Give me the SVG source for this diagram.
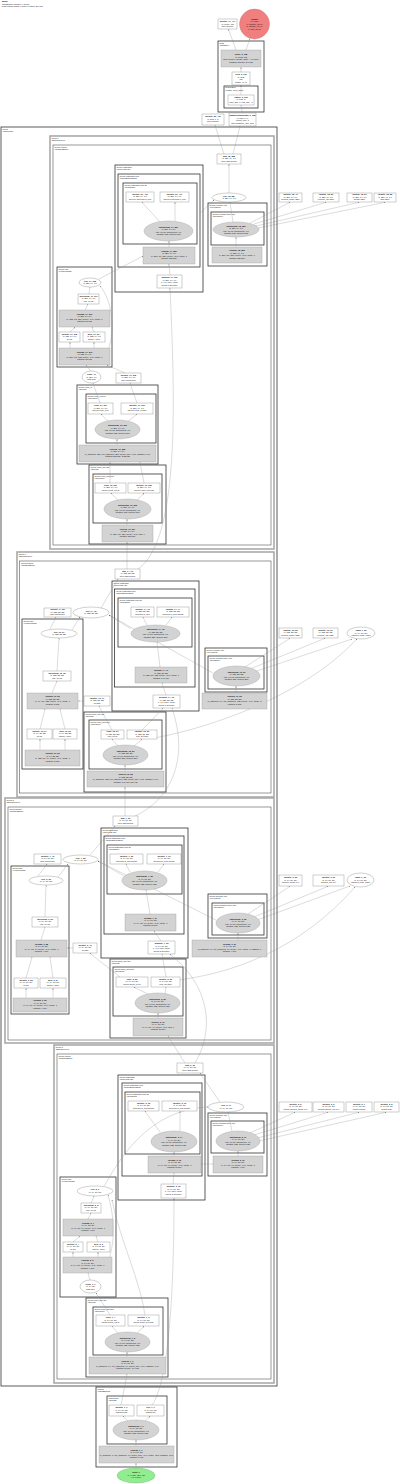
<svg xmlns="http://www.w3.org/2000/svg" width="400" height="1484" viewBox="0 0 400 1484">
<style>
.t{font-family:"Liberation Sans",Arial,sans-serif;font-size:2.1px;text-anchor:middle;fill:#111}
.b{font-weight:bold}
.lb{font-family:"Liberation Sans",Arial,sans-serif;font-size:2px;fill:#111}
.n{fill:#fff;stroke:#777;stroke-width:0.35}
.g{fill:#d3d3d3;stroke:#999;stroke-width:0.35}
.c1{fill:none;stroke:#333;stroke-width:0.8}
.c2{fill:none;stroke:#aaa;stroke-width:1.6}
.c3{fill:none;stroke:#555;stroke-width:0.6}
.e{fill:none;stroke:#888;stroke-width:0.3;marker-end:url(#a)}
</style>
<defs>
<marker id="a" viewBox="0 0 6 6" refX="6" refY="3" markerWidth="4" markerHeight="4" orient="auto"><path d="M0,0L6,3L0,6z" fill="#555"/></marker>
</defs>
<rect width="400" height="1484" fill="#fff"/>
<g id="title" class="lb">
<text x="2" y="2.2" font-weight="bold">Model</text>
<text x="2" y="4.6">Transformer encoder (4 layers)</text>
<text x="2" y="7">torch.jit.trace graph, 1 input, 1 output, 214 ops</text>
</g>

<g id="clusters">
<rect class="c1" x="218" y="41" width="46" height="71"/>
<text class="lb" x="219.5" y="43.6">head</text><text class="lb" x="219.5" y="45.8">(Classifier)</text>
<rect class="c1" x="224" y="86" width="34" height="22"/>
<text class="lb" x="225.2" y="88.4">head.flatten</text><text class="lb" x="225.2" y="90.6">(Flatten, keep_dims)</text>

<rect class="c1" x="1" y="127" width="276" height="1259"/>
<text class="lb" x="2.5" y="129.6">layers</text><text class="lb" x="2.5" y="131.8">(Sequential)</text>

<rect class="c2" x="50" y="136" width="224" height="413"/>
<text class="lb" x="51.5" y="138.6">layers.0</text><text class="lb" x="51.5" y="140.8">(EncoderLayer)</text>
<rect class="c3" x="53" y="145" width="218" height="400"/>
<text class="lb" x="54.5" y="147.6">layers.0.block</text><text class="lb" x="54.5" y="149.8">(ResidualBlock)</text>
<rect class="c1" x="115" y="165" width="88" height="127"/>
<text class="lb" x="116.5" y="167.6">layers.0.attention</text><text class="lb" x="116.5" y="169.8">(MultiHeadAttn)</text>
<rect class="c1" x="118" y="174" width="82" height="93"/>
<text class="lb" x="119.5" y="176.6">layers.0.attention.core</text><text class="lb" x="119.5" y="178.8">(ScaledDotProduct)</text>
<rect class="c1" x="123" y="183" width="74" height="61"/>
<text class="lb" x="124.5" y="185.6">layers.0.attention.core.qk</text><text class="lb" x="124.5" y="187.8">(QKMatmul)</text>
<rect class="c1" x="208" y="203" width="59" height="63"/>
<text class="lb" x="209.5" y="205.6">layers.0.norm1 (LN)</text><text class="lb" x="209.5" y="207.8">(LayerNorm)</text>
<rect class="c1" x="211" y="212" width="53" height="33"/>
<text class="lb" x="212.5" y="214.6">layers.0.norm1.inner (LN)</text><text class="lb" x="212.5" y="216.8">(NormCore)</text>
<rect class="c1" x="57" y="267" width="55" height="100"/>
<text class="lb" x="58.5" y="269.6">layers.0.ffn</text><text class="lb" x="58.5" y="271.8">(FeedForward)</text>
<rect class="c1" x="77" y="385" width="81" height="79"/>
<text class="lb" x="78.5" y="387.6">layers.0.proj_in</text><text class="lb" x="78.5" y="389.8">(Conv1d)</text>
<rect class="c1" x="86" y="394" width="70" height="49"/>
<text class="lb" x="87.5" y="396.6">layers.0.proj_in.conv</text><text class="lb" x="87.5" y="398.8">(ConvCore)</text>
<rect class="c1" x="89" y="465" width="77" height="79"/>
<text class="lb" x="90.5" y="467.6">layers.0.proj_out (1d)</text><text class="lb" x="90.5" y="469.8">(Conv1d)</text>
<rect class="c1" x="93" y="474" width="69" height="49"/>
<text class="lb" x="94.5" y="476.6">layers.0.proj_out.conv</text><text class="lb" x="94.5" y="478.8">(ConvCore)</text>

<rect class="c2" x="17" y="552" width="257" height="245"/>
<text class="lb" x="18.5" y="554.6">layers.1</text><text class="lb" x="18.5" y="556.8">(EncoderLayer)</text>
<rect class="c3" x="19.5" y="561" width="251.5" height="232"/>
<text class="lb" x="21" y="563.6">layers.1.block</text><text class="lb" x="21" y="565.8">(ResidualBlock)</text>
<rect class="c1" x="112" y="581" width="87" height="130"/>
<text class="lb" x="113.5" y="583.6">layers.1.attention</text><text class="lb" x="113.5" y="585.8">(MultiHeadAttn)</text>
<rect class="c1" x="114.5" y="589" width="80.5" height="98"/>
<text class="lb" x="116" y="591.6">layers.1.attention.core</text><text class="lb" x="116" y="593.8">(ScaledDotProduct)</text>
<rect class="c1" x="118" y="598" width="74" height="49"/>
<text class="lb" x="119.5" y="600.6">layers.1.attention.core.qk</text><text class="lb" x="119.5" y="602.8">(QKMatmul)</text>
<rect class="c1" x="22" y="619" width="61" height="150"/>
<text class="lb" x="23.5" y="621.6">layers.1.ffn</text><text class="lb" x="23.5" y="623.8">(FeedForward)</text>
<rect class="c1" x="84" y="712" width="82" height="80"/>
<text class="lb" x="85.5" y="714.6">layers.1.proj_out (1d)</text><text class="lb" x="85.5" y="716.8">(Conv1d)</text>
<rect class="c1" x="89" y="720" width="73" height="49"/>
<text class="lb" x="90.5" y="722.6">layers.1.proj_out.conv</text><text class="lb" x="90.5" y="724.8">(ConvCore)</text>
<rect class="c1" x="205" y="648" width="62" height="44"/>
<text class="lb" x="206.5" y="650.6">layers.1.norm1 (LN)</text><text class="lb" x="206.5" y="652.8">(LayerNorm)</text>
<rect class="c1" x="208" y="656" width="56" height="33"/>
<text class="lb" x="209.5" y="658.6">layers.1.norm1.inner (LN)</text><text class="lb" x="209.5" y="660.8">(NormCore)</text>

<rect class="c2" x="5" y="798" width="269" height="245"/>
<text class="lb" x="6.5" y="800.6">layers.2</text><text class="lb" x="6.5" y="802.8">(EncoderLayer)</text>
<rect class="c3" x="8" y="807" width="263" height="233"/>
<text class="lb" x="9.5" y="809.6">layers.2.block</text><text class="lb" x="9.5" y="811.8">(ResidualBlock)</text>
<rect class="c1" x="101" y="828" width="87" height="130"/>
<text class="lb" x="102.5" y="830.6">layers.2.attention</text><text class="lb" x="102.5" y="832.8">(MultiHeadAttn)</text>
<rect class="c1" x="104" y="836" width="80" height="98"/>
<text class="lb" x="105.5" y="838.6">layers.2.attention.core</text><text class="lb" x="105.5" y="840.8">(ScaledDotProduct)</text>
<rect class="c1" x="107" y="845" width="75" height="49"/>
<text class="lb" x="108.5" y="847.6">layers.2.attention.core.qk</text><text class="lb" x="108.5" y="849.8">(QKMatmul)</text>
<rect class="c1" x="11" y="866" width="58" height="148"/>
<text class="lb" x="12.5" y="868.6">layers.2.ffn</text><text class="lb" x="12.5" y="870.8">(FeedForward)</text>
<rect class="c1" x="110" y="959" width="76" height="79"/>
<text class="lb" x="111.5" y="961.6">layers.2.proj_out (1d)</text><text class="lb" x="111.5" y="963.8">(Conv1d)</text>
<rect class="c1" x="113" y="967" width="70" height="49"/>
<text class="lb" x="114.5" y="969.6">layers.2.proj_out.conv</text><text class="lb" x="114.5" y="971.8">(ConvCore)</text>
<rect class="c1" x="208" y="894" width="59" height="44"/>
<text class="lb" x="209.5" y="896.6">layers.2.norm1 (LN)</text><text class="lb" x="209.5" y="898.8">(LayerNorm)</text>
<rect class="c1" x="212" y="903" width="52" height="32"/>
<text class="lb" x="213.5" y="905.6">layers.2.norm1.inner (LN)</text><text class="lb" x="213.5" y="907.8">(NormCore)</text>

<rect class="c2" x="54" y="1045" width="220" height="338"/>
<text class="lb" x="55.5" y="1047.6">layers.3</text><text class="lb" x="55.5" y="1049.8">(EncoderLayer)</text>
<rect class="c3" x="57" y="1054" width="214" height="325"/>
<text class="lb" x="58.5" y="1056.6">layers.3.block</text><text class="lb" x="58.5" y="1058.8">(ResidualBlock)</text>
<rect class="c1" x="118" y="1075" width="87" height="125"/>
<text class="lb" x="119.5" y="1077.6">layers.3.attention</text><text class="lb" x="119.5" y="1079.8">(MultiHeadAttn)</text>
<rect class="c1" x="122" y="1083" width="80" height="93"/>
<text class="lb" x="123.5" y="1085.6">layers.3.attention.core</text><text class="lb" x="123.5" y="1087.8">(ScaledDotProduct)</text>
<rect class="c1" x="125" y="1092" width="75" height="62"/>
<text class="lb" x="126.5" y="1094.6">layers.3.attention.core.qk</text><text class="lb" x="126.5" y="1096.8">(QKMatmul)</text>
<rect class="c1" x="208" y="1113" width="59" height="63"/>
<text class="lb" x="209.5" y="1115.6">layers.3.norm1 (LN)</text><text class="lb" x="209.5" y="1117.8">(LayerNorm)</text>
<rect class="c1" x="211" y="1121" width="53" height="32"/>
<text class="lb" x="212.5" y="1123.6">layers.3.norm1.inner (LN)</text><text class="lb" x="212.5" y="1125.8">(NormCore)</text>
<rect class="c1" x="60" y="1177" width="56" height="120"/>
<text class="lb" x="61.5" y="1179.6">layers.3.ffn</text><text class="lb" x="61.5" y="1181.8">(FeedForward)</text>
<rect class="c1" x="86" y="1298" width="82" height="79"/>
<text class="lb" x="87.5" y="1300.6">layers.3.proj_out (1d)</text><text class="lb" x="87.5" y="1302.8">(Conv1d)</text>
<rect class="c1" x="93" y="1307" width="70" height="48"/>
<text class="lb" x="94.5" y="1309.6">layers.3.proj_out.conv</text><text class="lb" x="94.5" y="1311.8">(ConvCore)</text>

<rect class="c1" x="96" y="1387" width="81" height="80"/>
<text class="lb" x="97.5" y="1389.6">embed</text><text class="lb" x="97.5" y="1391.8">(PatchEmbed)</text>
<rect class="c1" x="107" y="1396" width="60" height="48"/>
<text class="lb" x="108.5" y="1398.6">embed.proj</text><text class="lb" x="108.5" y="1400.8">(Conv2d)</text>
</g>

<g id="edges">
<path class="e" d="M236,50L228.5,29.3"/>
<path class="e" d="M246,50L250,38.5"/>
<path class="e" d="M241,72L241,67.3"/>
<path class="e" d="M241,95L241,85.3"/>
<path class="e" d="M242.5,113L241,105.3"/>
<path class="e" d="M224,154L215,125.3"/>
<path class="e" d="M233,154L240,126.3"/>
<path class="e" d="M229,193L229,164.3"/>
<path class="e" d="M233,222L230,202.3"/>
<path class="e" d="M199,214L214,200"/>
<path class="e" d="M250,223L290,202.3"/>
<path class="e" d="M254,224L326,202.3"/>
<path class="e" d="M256,226L359,202.3"/>
<path class="e" d="M258,228L385,202.3"/>
<path class="e" d="M236,247L236,237.3"/>
<path class="e" d="M160,222L142,202.3"/>
<path class="e" d="M175,221L175,202.3"/>
<path class="e" d="M169,247L169,241.3"/>
<path class="e" d="M170,275L169,264.3"/>
<path class="e" d="M99,279L143,256"/>
<path class="e" d="M89,294L90,287.3"/>
<path class="e" d="M85,310L88,304.3"/>
<path class="e" d="M70,332L75,327.3"/>
<path class="e" d="M94,332L92,327.3"/>
<path class="e" d="M70,348L70,342.3"/>
<path class="e" d="M94,348L94,342.3"/>
<path class="e" d="M108,350C116,330 112,300 100,286"/>
<path class="e" d="M91,371L86,365.3"/>
<path class="e" d="M125,373L107,365.3"/>
<path class="e" d="M100,403L93,383.3"/>
<path class="e" d="M137,403L130,383.3"/>
<path class="e" d="M108,421L101,414.3"/>
<path class="e" d="M128,421L137,414.3"/>
<path class="e" d="M117,445L117,439.3"/>
<path class="e" d="M110,483L110,462.3"/>
<path class="e" d="M144,483L140,462.3"/>
<path class="e" d="M118,500L111,493.3"/>
<path class="e" d="M137,500L144,493.3"/>
<path class="e" d="M127,525L127,519.3"/>
<path class="e" d="M127,569L127,542.3"/>
<path class="e" d="M138,569C180,540 175,400 170,288.3"/>

<path class="e" d="M101,608L118,579.3"/>
<path class="e" d="M131,629L109,615"/>
<path class="e" d="M213,673L109,615"/>
<path class="e" d="M147,625L143,617.3"/>
<path class="e" d="M166,625L172,617.3"/>
<path class="e" d="M160,667L157,642.3"/>
<path class="e" d="M166,695L162,683.3"/>
<path class="e" d="M245,667L290,638.3"/>
<path class="e" d="M250,669L325,638.3"/>
<path class="e" d="M254,672L352,639"/>
<path class="e" d="M236,693L236,686.3"/>
<path class="e" d="M72,630L80,617"/>
<path class="e" d="M50,629L56,617.3"/>
<path class="e" d="M57,671L59,638.3"/>
<path class="e" d="M52,693L57,681.3"/>
<path class="e" d="M40,729L45,709.3"/>
<path class="e" d="M65,729L60,709.3"/>
<path class="e" d="M40,750L40,739.3"/>
<path class="e" d="M65,750L65,739.3"/>
<path class="e" d="M84,701L78.3,701"/>
<path class="e" d="M112,730L99,706.3"/>
<path class="e" d="M142,730L163,708.3"/>
<path class="e" d="M118,746L112,739.3"/>
<path class="e" d="M134,746L142,739.3"/>
<path class="e" d="M125,771L125,765.3"/>
<path class="e" d="M154,738C200,730 300,700 357,639"/>
<path class="e" d="M125,816L125,787.3"/>
<path class="e" d="M135,816C170,800 190,760 172,708.3"/>

<path class="e" d="M90,855L115,826.3"/>
<path class="e" d="M124,876L98,861"/>
<path class="e" d="M216,920L98,861"/>
<path class="e" d="M130,872L126,864.3"/>
<path class="e" d="M158,872L164,864.3"/>
<path class="e" d="M150,914L146,890.3"/>
<path class="e" d="M161,941L154,931.3"/>
<path class="e" d="M248,914L290,886.3"/>
<path class="e" d="M254,917L328,886.3"/>
<path class="e" d="M257,920L350,886"/>
<path class="e" d="M238,940L238,933.3"/>
<path class="e" d="M58,877L68,864"/>
<path class="e" d="M38,876L47,864.3"/>
<path class="e" d="M45,917L46,885.3"/>
<path class="e" d="M41,940L45,927.3"/>
<path class="e" d="M26,978L32,957.3"/>
<path class="e" d="M53,978L50,957.3"/>
<path class="e" d="M26,998L26,988.3"/>
<path class="e" d="M53,998L53,988.3"/>
<path class="e" d="M73,948L67.3,948"/>
<path class="e" d="M120,977L90,953.3"/>
<path class="e" d="M166,977L162,954.3"/>
<path class="e" d="M148,994L134,987.3"/>
<path class="e" d="M165,994L166,987.3"/>
<path class="e" d="M158,1018L158,1013.3"/>
<path class="e" d="M170,981C230,975 300,950 355,887"/>
<path class="e" d="M185,1063L168,1036.3"/>
<path class="e" d="M195,1063C215,1030 210,985 170,954.3"/>

<path class="e" d="M220,1102L200,1073.3"/>
<path class="e" d="M232,1131L228,1112.3"/>
<path class="e" d="M250,1133L295,1112.3"/>
<path class="e" d="M254,1135L328,1112.3"/>
<path class="e" d="M257,1138L359,1112.3"/>
<path class="e" d="M259,1141L386,1112.3"/>
<path class="e" d="M238,1156L238,1151.3"/>
<path class="e" d="M160,1132L145,1111.3"/>
<path class="e" d="M180,1131L180,1111.3"/>
<path class="e" d="M174,1156L174,1152.3"/>
<path class="e" d="M173,1184L174,1173.3"/>
<path class="e" d="M200,1164L212.7,1164"/>
<path class="e" d="M104,1186C112,1175 140,1110 208,1107"/>
<path class="e" d="M91,1203L94,1196.3"/>
<path class="e" d="M88,1219L91,1213.3"/>
<path class="e" d="M73,1242L80,1236.3"/>
<path class="e" d="M98,1242L96,1236.3"/>
<path class="e" d="M73,1257L73,1252.3"/>
<path class="e" d="M98,1257L98,1252.3"/>
<path class="e" d="M90,1280L88,1273.3"/>
<path class="e" d="M108,1262C116,1240 114,1215 108,1195"/>
<path class="e" d="M110,1315L96,1293"/>
<path class="e" d="M145,1315C140,1280 120,1240 112,1200"/>
<path class="e" d="M118,1333L112,1326.3"/>
<path class="e" d="M137,1333L144,1326.3"/>
<path class="e" d="M127,1357L127,1352.3"/>
<path class="e" d="M121,1405L127,1374.3"/>
<path class="e" d="M152,1405C170,1380 174,1280 174,1198.3"/>
<path class="e" d="M128,1421L123,1416.3"/>
<path class="e" d="M145,1421L150,1416.3"/>
<path class="e" d="M136,1446L136,1440.3"/>
<path class="e" d="M136,1468L136,1463.3"/>
</g>

<g id="nodes">
<g id="n_identity77"><rect class="n" x="218" y="19" width="19" height="10"/>
<text class="t b" x="227.5" y="22.3">Identity_77_414</text><text class="t" x="227.5" y="24.8">(1, 1000), f32</text><text class="t" x="227.5" y="27.3">aten::identity</text></g>
<g id="n_output"><circle cx="254.5" cy="24" r="15" fill="#f08080" stroke="#c66" stroke-width="0.35"/>
<text class="t b" x="254.5" y="19.7">output</text><text class="t" x="254.5" y="22.2">(1, 1000)</text><text class="t" x="254.5" y="24.7">1. softmax_78 (1)</text><text class="t" x="254.5" y="27.2">2. argmax_79 (1)</text><text class="t" x="254.5" y="29.7">3. topk_80 (5)</text></g>
<g id="n_head_linear"><rect class="g" x="221" y="50" width="40" height="17"/>
<text class="t b" x="241" y="55">linear_3_138</text><text class="t" x="241" y="57.5">(1, 1000) f32</text><text class="t" x="241" y="60">aten::linear(x, weight, bias) -&gt; (1,1000)</text><text class="t" x="241" y="62.5">params: 513,000, 2.0 MB</text></g>
<g id="n_head_view"><rect class="n" x="232" y="72" width="18" height="13"/>
<text class="t b" x="241" y="75">view_3_137</text><text class="t" x="241" y="77.5">(1, 512)</text><text class="t" x="241" y="80">f32</text><text class="t" x="241" y="82.5">shape=[1,-1]</text></g>
<g id="n_head_flat"><rect class="n" x="228" y="95" width="26" height="10"/>
<text class="t b" x="241" y="97.8">flatten_3_136</text><text class="t" x="241" y="100.3">(1, 512, 1)</text><text class="t" x="241" y="102.8">start_dim=1, end_dim=-1</text></g>
<g id="n_identity50"><rect class="n" x="202" y="114" width="22" height="11"/>
<text class="t b" x="213" y="117">Identity_50_416</text><text class="t" x="213" y="119.5">(1, 512, 1, 1)</text><text class="t" x="213" y="122">aten::identity</text></g>
<g id="n_pool"><rect class="n" x="229" y="113" width="27" height="13"/>
<text class="t b" x="242.5" y="116">adaptiveavgpool2d_3_135</text><text class="t" x="242.5" y="118.5">(1, 512, 1, 1)</text><text class="t" x="242.5" y="121">output_size=1</text><text class="t" x="242.5" y="123.5">aten::adaptive_avg_pool</text></g>

<g id="n_l0_add"><rect class="n" x="217" y="154" width="24" height="10"/>
<text class="t b" x="229" y="156.8">add_18_385</text><text class="t" x="229" y="159.3">(1, 256, 14, 14)</text><text class="t" x="229" y="161.8">aten::add.Tensor</text></g>
<g id="n_l0_relu"><ellipse class="n" cx="229" cy="197.5" rx="17" ry="4.5"/>
<text class="t b" x="229" y="196.8">relu_18_384</text><text class="t" x="229" y="199.3">(1, 256, 14, 14)</text></g>
<g id="n_l0_ln"><ellipse class="g" cx="236" cy="229.5" rx="23" ry="7.5"/>
<text class="t b" x="236" y="226.5">batchnorm_18_383</text><text class="t" x="236" y="229">(1, 256, 14, 14)</text><text class="t" x="236" y="231.5">eps=1e-05, momentum=0.1</text><text class="t" x="236" y="234">params: 512, buffers: 512</text></g>
<g id="n_l0_lng"><rect class="g" x="212" y="247" width="50" height="16"/>
<text class="t b" x="237" y="251.3">conv2d_18_382</text><text class="t" x="237" y="253.8">(1, 256, 14, 14)</text><text class="t" x="237" y="256.3">in=256, out=256, kernel=(3,3), stride=1</text><text class="t" x="237" y="258.8">params: 589,824</text></g>
<g id="n_l0_r1"><rect class="n" x="279" y="193" width="23" height="9"/>
<text class="t b" x="290.5" y="195.3">Identity_18_49</text><text class="t" x="290.5" y="197.6">(1, 256, 14, 14)</text><text class="t" x="290.5" y="199.9">running_mean (256)</text></g>
<g id="n_l0_r2"><rect class="n" x="313" y="193" width="26" height="9"/>
<text class="t b" x="326" y="195.3">Identity_18_50</text><text class="t" x="326" y="197.6">(1, 256, 14, 14)</text><text class="t" x="326" y="199.9">running_var (256)</text></g>
<g id="n_l0_r3"><rect class="n" x="347" y="193" width="25" height="9"/>
<text class="t b" x="359.5" y="195.3">Identity_18_51</text><text class="t" x="359.5" y="197.6">(1, 256, 14, 14)</text><text class="t" x="359.5" y="199.9">weight (256)</text></g>
<g id="n_l0_r4"><rect class="n" x="374" y="193" width="22" height="9"/>
<text class="t b" x="385" y="195.3">Identity_18_52</text><text class="t" x="385" y="197.6">(1, 256, 14, 14)</text><text class="t" x="385" y="199.9">bias (256)</text></g>
<g id="n_l0_q"><rect class="n" x="126" y="192" width="28" height="10"/>
<text class="t b" x="140" y="194.8">Identity_57_416</text><text class="t" x="140" y="197.3">(1, 256, 14, 14)</text><text class="t" x="140" y="199.8">layers.0.attention.q_proj</text></g>
<g id="n_l0_k"><rect class="n" x="160" y="192" width="29" height="10"/>
<text class="t b" x="174.5" y="194.8">Identity_57_417</text><text class="t" x="174.5" y="197.3">(1, 256, 14, 14)</text><text class="t" x="174.5" y="199.8">layers.0.attention.k_proj</text></g>
<g id="n_l0_att"><ellipse class="g" cx="168.5" cy="231" rx="24.5" ry="10"/>
<text class="t b" x="168.5" y="227.8">batchnorm_17_381</text><text class="t" x="168.5" y="230.3">(1, 256, 14, 14)</text><text class="t" x="168.5" y="232.8">eps=1e-05, momentum=0.1</text><text class="t" x="168.5" y="235.3">params: 512, buffers: 512</text></g>
<g id="n_l0_attg"><rect class="g" x="143" y="247" width="52" height="17"/>
<text class="t b" x="169" y="251.5">conv2d_17_380</text><text class="t" x="169" y="254">(1, 256, 14, 14)</text><text class="t" x="169" y="256.5">in=256, out=256, kernel=(3,3), stride=1</text><text class="t" x="169" y="259">params: 589,824</text></g>
<g id="n_l0_res"><rect class="n" x="157" y="275" width="25" height="13"/>
<text class="t b" x="169.5" y="278">dropout_17_379</text><text class="t" x="169.5" y="280.5">(1, 256, 14, 14)</text><text class="t" x="169.5" y="283">p=0.1, train=False</text><text class="t" x="169.5" y="285.5">layers.0.attention</text></g>
<g id="n_l0_f1"><ellipse class="n" cx="90" cy="282.5" rx="11" ry="4.5"/>
<text class="t b" x="90" y="281.8">relu_17_378</text><text class="t" x="90" y="284.3">(1, 256, 14, 14)</text></g>
<g id="n_l0_f2"><rect class="n" x="78" y="294" width="21" height="10"/>
<text class="t b" x="88.5" y="296.8">layernorm_17_377</text><text class="t" x="88.5" y="299.3">(1, 256, 14, 14)</text><text class="t" x="88.5" y="301.8">eps=1e-05</text></g>
<g id="n_l0_f3"><rect class="g" x="59" y="310" width="51" height="17"/>
<text class="t b" x="84.5" y="314.5">conv2d_17_376</text><text class="t" x="84.5" y="317">(1, 256, 14, 14)</text><text class="t" x="84.5" y="319.5">in=128, out=256, kernel=(1,1), stride=1</text><text class="t" x="84.5" y="322">params: 32,768</text></g>
<g id="n_l0_f4"><rect class="n" x="59" y="332" width="21" height="10"/>
<text class="t b" x="69.5" y="334.8">Identity_17_375</text><text class="t" x="69.5" y="337.3">(1, 128, 14, 14)</text><text class="t" x="69.5" y="339.8">ffn.w1</text></g>
<g id="n_l0_f5"><rect class="n" x="83" y="332" width="22" height="10"/>
<text class="t b" x="94" y="334.8">gelu_17_374</text><text class="t" x="94" y="337.3">(1, 128, 14, 14)</text><text class="t" x="94" y="339.8">approx=none</text></g>
<g id="n_l0_f6"><rect class="g" x="59" y="348" width="51" height="17"/>
<text class="t b" x="84.5" y="352.5">conv2d_17_373</text><text class="t" x="84.5" y="355">(1, 128, 14, 14)</text><text class="t" x="84.5" y="357.5">in=256, out=128, kernel=(1,1), stride=1</text><text class="t" x="84.5" y="360">params: 32,768</text></g>
<g id="n_l0_in"><ellipse class="n" cx="91.5" cy="377" rx="9.5" ry="6"/>
<text class="t b" x="91.5" y="375.2">clone_17</text><text class="t" x="91.5" y="377.7">(1, 256, 14)</text><text class="t" x="91.5" y="380.2">fp32 True</text></g>
<g id="n_l0_id"><rect class="n" x="116" y="373" width="25" height="10"/>
<text class="t b" x="128.5" y="375.8">Identity_17_372</text><text class="t" x="128.5" y="378.3">(1, 256, 14, 14)</text><text class="t" x="128.5" y="380.8">skip connection</text></g>
<g id="n_l0_d1"><rect class="n" x="88" y="403" width="25" height="11"/>
<text class="t b" x="100.5" y="406.3">conv_17_371</text><text class="t" x="100.5" y="408.8">(1, 256, 14, 14)</text><text class="t" x="100.5" y="411.3">layers.0.proj_in.w</text></g>
<g id="n_l0_d2"><rect class="n" x="121" y="403" width="32" height="11"/>
<text class="t b" x="137" y="406.3">Identity_17_370</text><text class="t" x="137" y="408.8">(1, 256, 14, 14)</text><text class="t" x="137" y="411.3">layers.0.proj_in.bias</text></g>
<g id="n_l0_d3"><ellipse class="g" cx="117.5" cy="429.5" rx="22.5" ry="9.5"/>
<text class="t b" x="117.5" y="426.3">batchnorm_16_369</text><text class="t" x="117.5" y="428.8">(1, 256, 14, 14)</text><text class="t" x="117.5" y="431.3">eps=1e-05, momentum=0.1</text><text class="t" x="117.5" y="433.8">params: 512, buffers: 512</text></g>
<g id="n_l0_d4"><rect class="g" x="79" y="445" width="77" height="17"/>
<text class="t b" x="117.5" y="449.5">conv1d_16_368</text><text class="t" x="117.5" y="452">(1, 256, 14, 14)</text><text class="t" x="117.5" y="454.5">in_channels=256, out_channels=256, kernel_size=(3,3), padding=(1,1)</text><text class="t" x="117.5" y="457">params: 589,824, 2.25 MB</text></g>
<g id="n_l0_e1"><rect class="n" x="95" y="483" width="31" height="10"/>
<text class="t b" x="110.5" y="485.8">conv_16_367</text><text class="t" x="110.5" y="488.3">(1, 256, 14, 14)</text><text class="t" x="110.5" y="490.8">layers.0.proj_out.w</text></g>
<g id="n_l0_e2"><rect class="n" x="128" y="483" width="32" height="10"/>
<text class="t b" x="144" y="485.8">Identity_16_366</text><text class="t" x="144" y="488.3">(1, 256, 14, 14)</text><text class="t" x="144" y="490.8">layers.0.proj_out.bias</text></g>
<g id="n_l0_e3"><ellipse class="g" cx="127.5" cy="509" rx="23.5" ry="10"/>
<text class="t b" x="127.5" y="505.8">batchnorm_16_365</text><text class="t" x="127.5" y="508.3">(1, 256, 14, 14)</text><text class="t" x="127.5" y="510.8">eps=1e-05, momentum=0.1</text><text class="t" x="127.5" y="513.3">params: 512, buffers: 512</text></g>
<g id="n_l0_e4"><rect class="g" x="102" y="525" width="51" height="17"/>
<text class="t b" x="127.5" y="529.5">conv1d_16_364</text><text class="t" x="127.5" y="532">(1, 256, 14, 14)</text><text class="t" x="127.5" y="534.5">in=256, out=256, kernel=(3,3), pad=1</text><text class="t" x="127.5" y="537">params: 589,824</text></g>

<g id="n_l1_add"><rect class="n" x="115" y="569" width="25" height="10"/>
<text class="t b" x="127.5" y="571.8">add_14_76</text><text class="t" x="127.5" y="574.3">(1, 128, 28, 28)</text><text class="t" x="127.5" y="576.8">aten::add.Tensor</text></g>
<g id="n_l1_id"><rect class="n" x="44" y="608" width="27" height="9"/>
<text class="t b" x="57.5" y="610.3">Identity_14_80</text><text class="t" x="57.5" y="612.6">(1, 128, 28, 28)</text><text class="t" x="57.5" y="614.9">skip connection</text></g>
<g id="n_l1_relu"><ellipse class="n" cx="91" cy="612.5" rx="18" ry="5.5"/>
<text class="t b" x="91" y="611.8">relu_14_75</text><text class="t" x="91" y="614.3">(1, 128, 28, 28)</text></g>
<g id="n_l1_q"><rect class="n" x="131" y="607" width="23" height="10"/>
<text class="t b" x="142.5" y="609.8">Identity_14_73</text><text class="t" x="142.5" y="612.3">(1, 128, 28, 28)</text><text class="t" x="142.5" y="614.8">attention.q_proj</text></g>
<g id="n_l1_k"><rect class="n" x="157" y="607" width="32" height="10"/>
<text class="t b" x="173" y="609.8">Identity_14_74</text><text class="t" x="173" y="612.3">(1, 128, 28, 28)</text><text class="t" x="173" y="614.8">attention.k_proj.weight</text></g>
<g id="n_l1_att"><ellipse class="g" cx="155.5" cy="633.5" rx="24.5" ry="8.5"/>
<text class="t b" x="155.5" y="630.3">batchnorm_14_72</text><text class="t" x="155.5" y="632.8">(1, 128, 28, 28)</text><text class="t" x="155.5" y="635.3">eps=1e-05, momentum=0.1</text><text class="t" x="155.5" y="637.8">params: 256, buffers: 256</text></g>
<g id="n_l1_attg"><rect class="g" x="135" y="667" width="52" height="16"/>
<text class="t b" x="161" y="671.3">conv2d_14_71</text><text class="t" x="161" y="673.8">(1, 128, 28, 28)</text><text class="t" x="161" y="676.3">in=128, out=128, kernel=(3,3), stride=1</text><text class="t" x="161" y="678.8">params: 147,456</text></g>
<g id="n_l1_res"><rect class="n" x="153" y="695" width="27" height="13"/>
<text class="t b" x="166.5" y="698">dropout_14_70</text><text class="t" x="166.5" y="700.5">(1, 128, 28, 28)</text><text class="t" x="166.5" y="703">p=0.1, train=False</text><text class="t" x="166.5" y="705.5">layers.1.attention</text></g>
<g id="n_l1_ln"><ellipse class="g" cx="236.5" cy="676" rx="23.5" ry="10"/>
<text class="t b" x="236.5" y="672.8">batchnorm_13_69</text><text class="t" x="236.5" y="675.3">(1, 128, 28, 28)</text><text class="t" x="236.5" y="677.8">eps=1e-05, momentum=0.1</text><text class="t" x="236.5" y="680.3">params: 256, buffers: 256</text></g>
<g id="n_l1_lng"><rect class="g" x="202" y="693" width="65" height="16"/>
<text class="t b" x="234.5" y="697.3">conv2d_13_68</text><text class="t" x="234.5" y="699.8">(1, 128, 28, 28)</text><text class="t" x="234.5" y="702.3">in_channels=64, out_channels=128, kernel=(1,1), stride=2</text><text class="t" x="234.5" y="704.8">params: 8,192</text></g>
<g id="n_l1_r1"><rect class="n" x="279" y="628" width="23" height="10"/>
<text class="t b" x="290.5" y="630.8">Identity_13_56</text><text class="t" x="290.5" y="633.3">(1, 128, 28, 28)</text><text class="t" x="290.5" y="635.8">running_mean (128)</text></g>
<g id="n_l1_r2"><rect class="n" x="313" y="628" width="25" height="10"/>
<text class="t b" x="325.5" y="630.8">Identity_13_57</text><text class="t" x="325.5" y="633.3">(1, 128, 28, 28)</text><text class="t" x="325.5" y="635.8">running_var (128)</text></g>
<g id="n_l1_r3"><ellipse class="n" cx="361" cy="633" rx="14" ry="6"/>
<text class="t b" x="361" y="631.2">input_1_33</text><text class="t" x="361" y="633.7">(1, 64, 56, 56)</text><text class="t" x="361" y="636.2">requires_grad=False</text></g>
<g id="n_l1_g1"><ellipse class="n" cx="59" cy="633.5" rx="18" ry="4.5"/>
<text class="t b" x="59" y="632.8">relu_13_67</text><text class="t" x="59" y="635.3">(1, 128, 28, 28)</text></g>
<g id="n_l1_g2"><rect class="n" x="43" y="671" width="28" height="10"/>
<text class="t b" x="57" y="673.8">layernorm_13_66</text><text class="t" x="57" y="676.3">(1, 128, 28, 28)</text><text class="t" x="57" y="678.8">eps=1e-05</text></g>
<g id="n_l1_g3"><rect class="g" x="27" y="693" width="51" height="16"/>
<text class="t b" x="52.5" y="697.3">conv2d_13_65</text><text class="t" x="52.5" y="699.8">(1, 128, 28, 28)</text><text class="t" x="52.5" y="702.3">in=64, out=128, kernel=(1,1), stride=1</text><text class="t" x="52.5" y="704.8">params: 8,192</text></g>
<g id="n_l1_h0"><rect class="n" x="84" y="696" width="26" height="10"/>
<text class="t b" x="97" y="698.8">Identity_13_77</text><text class="t" x="97" y="701.3">(1, 128, 28, 28)</text><text class="t" x="97" y="703.8">ffn.bias</text></g>
<g id="n_l1_g4"><rect class="n" x="27" y="729" width="25" height="10"/>
<text class="t b" x="39.5" y="731.8">Identity_13_64</text><text class="t" x="39.5" y="734.3">(1, 64, 28, 28)</text><text class="t" x="39.5" y="736.8">ffn.w1</text></g>
<g id="n_l1_g5"><rect class="n" x="53" y="729" width="24" height="10"/>
<text class="t b" x="65" y="731.8">gelu_13_63</text><text class="t" x="65" y="734.3">(1, 64, 28, 28)</text><text class="t" x="65" y="736.8">approx=none</text></g>
<g id="n_l1_g6"><rect class="g" x="25" y="750" width="55" height="16"/>
<text class="t b" x="52.5" y="754.3">conv2d_13_62</text><text class="t" x="52.5" y="756.8">(1, 64, 28, 28)</text><text class="t" x="52.5" y="759.3">in=128, out=64, kernel=(1,1), stride=1</text><text class="t" x="52.5" y="761.8">params: 8,192</text></g>
<g id="n_l1_h1"><rect class="n" x="101" y="730" width="23" height="9"/>
<text class="t b" x="112.5" y="732.3">conv_12_61</text><text class="t" x="112.5" y="734.6">(1, 128, 28, 28)</text><text class="t" x="112.5" y="736.9">proj_out.w</text></g>
<g id="n_l1_h2"><rect class="n" x="127" y="730" width="30" height="9"/>
<text class="t b" x="142" y="732.3">Identity_12_60</text><text class="t" x="142" y="734.6">(1, 128, 28, 28)</text><text class="t" x="142" y="736.9">proj_out.bias</text></g>
<g id="n_l1_h3"><ellipse class="g" cx="125.5" cy="755" rx="22.5" ry="10"/>
<text class="t b" x="125.5" y="751.8">batchnorm_12_59</text><text class="t" x="125.5" y="754.3">(1, 128, 28, 28)</text><text class="t" x="125.5" y="756.8">eps=1e-05, momentum=0.1</text><text class="t" x="125.5" y="759.3">params: 256, buffers: 256</text></g>
<g id="n_l1_h4"><rect class="g" x="87" y="771" width="77" height="16"/>
<text class="t b" x="125.5" y="775.3">conv1d_12_58</text><text class="t" x="125.5" y="777.8">(1, 128, 28, 28)</text><text class="t" x="125.5" y="780.3">in_channels=128, out_channels=128, kernel_size=(3,3), padding=(1,1)</text><text class="t" x="125.5" y="782.8">params: 147,456, 576 KB</text></g>

<g id="n_l2_add"><rect class="n" x="113" y="816" width="25" height="10"/>
<text class="t b" x="125.5" y="818.8">add_7_39</text><text class="t" x="125.5" y="821.3">(1, 64, 56, 56)</text><text class="t" x="125.5" y="823.8">aten::add.Tensor</text></g>
<g id="n_l2_id"><rect class="n" x="34" y="854" width="27" height="10"/>
<text class="t b" x="47.5" y="856.8">Identity_7_43</text><text class="t" x="47.5" y="859.3">(1, 64, 56, 56)</text><text class="t" x="47.5" y="861.8">skip connection</text></g>
<g id="n_l2_relu"><ellipse class="n" cx="80.5" cy="859.5" rx="17.5" ry="4.5"/>
<text class="t b" x="80.5" y="858.8">relu_7_38</text><text class="t" x="80.5" y="861.3">(1, 64, 56, 56)</text></g>
<g id="n_l2_q"><rect class="n" x="110" y="854" width="33" height="10"/>
<text class="t b" x="126.5" y="856.8">Identity_7_36</text><text class="t" x="126.5" y="859.3">(1, 64, 56, 56)</text><text class="t" x="126.5" y="861.8">attention.q_proj.weight</text></g>
<g id="n_l2_k"><rect class="n" x="147" y="854" width="34" height="10"/>
<text class="t b" x="164" y="856.8">Identity_7_37</text><text class="t" x="164" y="859.3">(1, 64, 56, 56)</text><text class="t" x="164" y="861.8">attention.k_proj.weight</text></g>
<g id="n_l2_att"><ellipse class="g" cx="144.5" cy="880.5" rx="22.5" ry="9.5"/>
<text class="t b" x="144.5" y="877.3">batchnorm_7_35</text><text class="t" x="144.5" y="879.8">(1, 64, 56, 56)</text><text class="t" x="144.5" y="882.3">eps=1e-05, momentum=0.1</text><text class="t" x="144.5" y="884.8">params: 128, buffers: 128</text></g>
<g id="n_l2_attg"><rect class="g" x="125" y="914" width="51" height="17"/>
<text class="t b" x="150.5" y="918.5">conv2d_7_34</text><text class="t" x="150.5" y="921">(1, 64, 56, 56)</text><text class="t" x="150.5" y="923.5">in=64, out=64, kernel=(3,3), stride=1</text><text class="t" x="150.5" y="926">params: 36,864</text></g>
<g id="n_l2_res"><rect class="n" x="148" y="941" width="27" height="13"/>
<text class="t b" x="161.5" y="944">dropout_7_33</text><text class="t" x="161.5" y="946.5">(1, 64, 56, 56)</text><text class="t" x="161.5" y="949">p=0.1, train=False</text><text class="t" x="161.5" y="951.5">layers.2.attention</text></g>
<g id="n_l2_ln"><ellipse class="g" cx="238" cy="923" rx="22" ry="10"/>
<text class="t b" x="238" y="919.8">batchnorm_6_32</text><text class="t" x="238" y="922.3">(1, 64, 56, 56)</text><text class="t" x="238" y="924.8">eps=1e-05, momentum=0.1</text><text class="t" x="238" y="927.3">params: 128, buffers: 128</text></g>
<g id="n_l2_lng"><rect class="g" x="192" y="940" width="75" height="17"/>
<text class="t b" x="229.5" y="944.5">conv2d_6_31</text><text class="t" x="229.5" y="947">(1, 64, 56, 56)</text><text class="t" x="229.5" y="949.5">in_channels=64, out_channels=64, kernel=(1,1), stride=1, padding=0</text><text class="t" x="229.5" y="952">params: 4,096</text></g>
<g id="n_l2_r1"><rect class="n" x="279" y="875" width="23" height="11"/>
<text class="t b" x="290.5" y="878">Identity_6_26</text><text class="t" x="290.5" y="880.5">(1, 64, 56, 56)</text><text class="t" x="290.5" y="883">running_mean (64)</text></g>
<g id="n_l2_r2"><rect class="n" x="313" y="875" width="31" height="11"/>
<text class="t b" x="328.5" y="878">Identity_6_27</text><text class="t" x="328.5" y="880.5">(1, 64, 56, 56)</text><text class="t" x="328.5" y="883">running_var (64)</text></g>
<g id="n_l2_r3"><ellipse class="n" cx="360.5" cy="880" rx="13.5" ry="7"/>
<text class="t b" x="360.5" y="878.2">input_1_15</text><text class="t" x="360.5" y="880.7">(1, 64, 56, 56)</text><text class="t" x="360.5" y="883.2">requires_grad=False</text></g>
<g id="n_l2_k1"><ellipse class="n" cx="46" cy="880.5" rx="17" ry="4.5"/>
<text class="t b" x="46" y="879.8">relu_6_30</text><text class="t" x="46" y="882.3">(1, 64, 56, 56)</text></g>
<g id="n_l2_k2"><rect class="n" x="32" y="917" width="26" height="10"/>
<text class="t b" x="45" y="919.8">layernorm_6_29</text><text class="t" x="45" y="922.3">(1, 64, 56, 56)</text><text class="t" x="45" y="924.8">eps=1e-05</text></g>
<g id="n_l2_k3"><rect class="g" x="16" y="940" width="51" height="17"/>
<text class="t b" x="41.5" y="944.5">conv2d_6_28</text><text class="t" x="41.5" y="947">(1, 64, 56, 56)</text><text class="t" x="41.5" y="949.5">in=64, out=64, kernel=(1,1), stride=1</text><text class="t" x="41.5" y="952">params: 4,096</text></g>
<g id="n_l2_l0"><rect class="n" x="73" y="943" width="24" height="10"/>
<text class="t b" x="85" y="945.8">Identity_6_40</text><text class="t" x="85" y="948.3">(1, 64, 56, 56)</text><text class="t" x="85" y="950.8">ffn.bias</text></g>
<g id="n_l2_k4"><rect class="n" x="14" y="978" width="24" height="10"/>
<text class="t b" x="26" y="980.8">Identity_6_25</text><text class="t" x="26" y="983.3">(1, 64, 56, 56)</text><text class="t" x="26" y="985.8">ffn.w1</text></g>
<g id="n_l2_k5"><rect class="n" x="40" y="978" width="26" height="10"/>
<text class="t b" x="53" y="980.8">gelu_6_24</text><text class="t" x="53" y="983.3">(1, 64, 56, 56)</text><text class="t" x="53" y="985.8">approx=none</text></g>
<g id="n_l2_k6"><rect class="g" x="13" y="998" width="54" height="14"/>
<text class="t b" x="40" y="1001.4">conv2d_6_23</text><text class="t" x="40" y="1003.9">(1, 64, 56, 56)</text><text class="t" x="40" y="1006.4">in=64, out=64, kernel=(1,1), stride=1</text><text class="t" x="40" y="1008.9">params: 4,096</text></g>
<g id="n_l2_m1"><rect class="n" x="116" y="977" width="32" height="10"/>
<text class="t b" x="132" y="979.8">conv_5_22</text><text class="t" x="132" y="982.3">(1, 64, 56, 56)</text><text class="t" x="132" y="984.8">layers.2.proj_out.w</text></g>
<g id="n_l2_m2"><rect class="n" x="151" y="977" width="29" height="10"/>
<text class="t b" x="165.5" y="979.8">Identity_5_21</text><text class="t" x="165.5" y="982.3">(1, 64, 56, 56)</text><text class="t" x="165.5" y="984.8">proj_out.bias</text></g>
<g id="n_l2_m3"><ellipse class="g" cx="157.5" cy="1003" rx="22.5" ry="10"/>
<text class="t b" x="157.5" y="999.8">batchnorm_5_20</text><text class="t" x="157.5" y="1002.3">(1, 64, 56, 56)</text><text class="t" x="157.5" y="1004.8">eps=1e-05, momentum=0.1</text><text class="t" x="157.5" y="1007.3">params: 128, buffers: 128</text></g>
<g id="n_l2_m4"><rect class="g" x="133" y="1018" width="50" height="18"/>
<text class="t b" x="158" y="1022.7">conv1d_5_19</text><text class="t" x="158" y="1025.2">(1, 64, 56, 56)</text><text class="t" x="158" y="1027.7">in=64, out=64, kernel=(3,3), pad=1</text><text class="t" x="158" y="1030.2">params: 36,864</text></g>

<g id="n_l3_add"><rect class="n" x="177" y="1063" width="26" height="10"/>
<text class="t b" x="190" y="1065.8">add_3_18</text><text class="t" x="190" y="1068.3">(1, 64, 56, 56)</text><text class="t" x="190" y="1070.8">aten::add.Tensor</text></g>
<g id="n_l3_relu"><ellipse class="n" cx="226" cy="1107" rx="18" ry="5"/>
<text class="t b" x="226" y="1106.3">relu_3_17</text><text class="t" x="226" y="1108.8">(1, 64, 56, 56)</text></g>
<g id="n_l3_q"><rect class="n" x="128" y="1101" width="31" height="10"/>
<text class="t b" x="143.5" y="1103.8">Identity_3_15</text><text class="t" x="143.5" y="1106.3">(1, 64, 56, 56)</text><text class="t" x="143.5" y="1108.8">attention.q_proj.weight</text></g>
<g id="n_l3_k"><rect class="n" x="162" y="1101" width="35" height="10"/>
<text class="t b" x="179.5" y="1103.8">Identity_3_16</text><text class="t" x="179.5" y="1106.3">(1, 64, 56, 56)</text><text class="t" x="179.5" y="1108.8">attention.k_proj.weight</text></g>
<g id="n_l3_att"><ellipse class="g" cx="174" cy="1141.5" rx="23" ry="10.5"/>
<text class="t b" x="174" y="1138.3">batchnorm_3_14</text><text class="t" x="174" y="1140.8">(1, 64, 56, 56)</text><text class="t" x="174" y="1143.3">eps=1e-05, momentum=0.1</text><text class="t" x="174" y="1145.8">params: 128, buffers: 128</text></g>
<g id="n_l3_attg"><rect class="g" x="148" y="1156" width="53" height="17"/>
<text class="t b" x="174.5" y="1160.5">conv2d_3_13</text><text class="t" x="174.5" y="1163">(1, 64, 56, 56)</text><text class="t" x="174.5" y="1165.5">in=64, out=64, kernel=(3,3), stride=1</text><text class="t" x="174.5" y="1168">params: 36,864</text></g>
<g id="n_l3_res"><rect class="n" x="161" y="1184" width="25" height="14"/>
<text class="t b" x="173.5" y="1187.4">dropout_3_12</text><text class="t" x="173.5" y="1189.9">(1, 64, 56, 56)</text><text class="t" x="173.5" y="1192.4">p=0.1, train=False</text><text class="t" x="173.5" y="1194.9">layers.3.attention</text></g>
<g id="n_l3_ln"><ellipse class="g" cx="238" cy="1141" rx="22" ry="10"/>
<text class="t b" x="238" y="1137.8">batchnorm_2_11</text><text class="t" x="238" y="1140.3">(1, 64, 56, 56)</text><text class="t" x="238" y="1142.8">eps=1e-05, momentum=0.1</text><text class="t" x="238" y="1145.3">params: 128, buffers: 128</text></g>
<g id="n_l3_lng"><rect class="g" x="213" y="1156" width="50" height="17"/>
<text class="t b" x="238" y="1160.5">conv2d_2_10</text><text class="t" x="238" y="1163">(1, 64, 56, 56)</text><text class="t" x="238" y="1165.5">in=64, out=64, kernel=(1,1), stride=1</text><text class="t" x="238" y="1168">params: 4,096</text></g>
<g id="n_l3_r1"><rect class="n" x="279" y="1102" width="33" height="10"/>
<text class="t b" x="295.5" y="1104.8">Identity_2_5</text><text class="t" x="295.5" y="1107.3">(1, 64, 56, 56)</text><text class="t" x="295.5" y="1109.8">norm1.running_mean (64)</text></g>
<g id="n_l3_r2"><rect class="n" x="313" y="1102" width="31" height="10"/>
<text class="t b" x="328.5" y="1104.8">Identity_2_6</text><text class="t" x="328.5" y="1107.3">(1, 64, 56, 56)</text><text class="t" x="328.5" y="1109.8">norm1.running_var (64)</text></g>
<g id="n_l3_r3"><rect class="n" x="346" y="1102" width="26" height="10"/>
<text class="t b" x="359" y="1104.8">Identity_2_7</text><text class="t" x="359" y="1107.3">(1, 64, 56, 56)</text><text class="t" x="359" y="1109.8">norm1.weight</text></g>
<g id="n_l3_r4"><rect class="n" x="374" y="1102" width="25" height="10"/>
<text class="t b" x="386.5" y="1104.8">Identity_2_8</text><text class="t" x="386.5" y="1107.3">(1, 64, 56, 56)</text><text class="t" x="386.5" y="1109.8">norm1.bias</text></g>
<g id="n_l3_p1"><ellipse class="n" cx="95" cy="1191" rx="18" ry="5"/>
<text class="t b" x="95" y="1190.3">relu_2_9</text><text class="t" x="95" y="1192.8">(1, 64, 56, 56)</text></g>
<g id="n_l3_p2"><rect class="n" x="81" y="1203" width="20" height="10"/>
<text class="t b" x="91" y="1205.8">layernorm_2_8</text><text class="t" x="91" y="1208.3">(1, 64, 56, 56)</text><text class="t" x="91" y="1210.8">eps=1e-05</text></g>
<g id="n_l3_p3"><rect class="g" x="63" y="1219" width="50" height="17"/>
<text class="t b" x="88" y="1223.5">conv2d_2_7</text><text class="t" x="88" y="1226">(1, 64, 56, 56)</text><text class="t" x="88" y="1228.5">in=64, out=64, kernel=(1,1), stride=1</text><text class="t" x="88" y="1231">params: 4,096</text></g>
<g id="n_l3_p4"><rect class="n" x="63" y="1242" width="20" height="10"/>
<text class="t b" x="73" y="1244.8">Identity_2_4</text><text class="t" x="73" y="1247.3">(1, 64, 56, 56)</text><text class="t" x="73" y="1249.8">ffn.w1</text></g>
<g id="n_l3_p5"><rect class="n" x="87" y="1242" width="23" height="10"/>
<text class="t b" x="98.5" y="1244.8">gelu_2_3</text><text class="t" x="98.5" y="1247.3">(1, 64, 56, 56)</text><text class="t" x="98.5" y="1249.8">approx=none</text></g>
<g id="n_l3_p6"><rect class="g" x="63" y="1257" width="49" height="16"/>
<text class="t b" x="87.5" y="1261.3">conv2d_2_2</text><text class="t" x="87.5" y="1263.8">(1, 64, 56, 56)</text><text class="t" x="87.5" y="1266.3">in=64, out=64, kernel=(1,1), stride=1</text><text class="t" x="87.5" y="1268.8">params: 4,096</text></g>
<g id="n_l3_p7"><ellipse class="n" cx="90.5" cy="1286.5" rx="10.5" ry="6.5"/>
<text class="t b" x="90.5" y="1284.7">clone_1_1</text><text class="t" x="90.5" y="1287.2">(1, 64, 56)</text><text class="t" x="90.5" y="1289.7">fp32 True</text></g>
<g id="n_l3_q1"><rect class="n" x="96" y="1315" width="29" height="11"/>
<text class="t b" x="110.5" y="1318.3">conv_1_4</text><text class="t" x="110.5" y="1320.8">(1, 64, 56, 56)</text><text class="t" x="110.5" y="1323.3">layers.3.proj_out.w</text></g>
<g id="n_l3_q2"><rect class="n" x="128" y="1315" width="31" height="11"/>
<text class="t b" x="143.5" y="1318.3">Identity_1_3</text><text class="t" x="143.5" y="1320.8">(1, 64, 56, 56)</text><text class="t" x="143.5" y="1323.3">layers.3.proj_out.bias</text></g>
<g id="n_l3_q3"><ellipse class="g" cx="127.5" cy="1342" rx="22.5" ry="10"/>
<text class="t b" x="127.5" y="1338.8">batchnorm_1_2</text><text class="t" x="127.5" y="1341.3">(1, 64, 56, 56)</text><text class="t" x="127.5" y="1343.8">eps=1e-05, momentum=0.1</text><text class="t" x="127.5" y="1346.3">params: 128, buffers: 128</text></g>
<g id="n_l3_q4"><rect class="g" x="89" y="1357" width="77" height="17"/>
<text class="t b" x="127.5" y="1361.5">conv1d_1_1</text><text class="t" x="127.5" y="1364">(1, 64, 56, 56)</text><text class="t" x="127.5" y="1366.5">in_channels=64, out_channels=64, kernel_size=(3,3), padding=(1,1)</text><text class="t" x="127.5" y="1369">params: 36,864, 144 KB</text></g>

<g id="n_em1"><rect class="n" x="109" y="1405" width="25" height="11"/>
<text class="t b" x="121.5" y="1408.3">Identity_1_1</text><text class="t" x="121.5" y="1410.8">(1, 64, 56, 56)</text><text class="t" x="121.5" y="1413.3">embed.norm</text></g>
<g id="n_em2"><rect class="n" x="137" y="1405" width="27" height="11"/>
<text class="t b" x="150.5" y="1408.3">relu_1_1</text><text class="t" x="150.5" y="1410.8">(1, 64, 56, 56)</text><text class="t" x="150.5" y="1413.3">embed.act</text></g>
<g id="n_em3"><ellipse class="g" cx="136" cy="1430" rx="23" ry="10"/>
<text class="t b" x="136" y="1426.8">batchnorm_1_1</text><text class="t" x="136" y="1429.3">(1, 64, 56, 56)</text><text class="t" x="136" y="1431.8">eps=1e-05, momentum=0.1</text><text class="t" x="136" y="1434.3">params: 128, buffers: 128</text></g>
<g id="n_em4"><rect class="g" x="99" y="1446" width="75" height="17"/>
<text class="t b" x="136.5" y="1450.5">conv2d_1_1</text><text class="t" x="136.5" y="1453">(1, 64, 56, 56)</text><text class="t" x="136.5" y="1455.5">in_channels=3, out_channels=64, kernel_size=(7,7), stride=(2,2), padding=(3,3)</text><text class="t" x="136.5" y="1458">params: 9,408</text></g>
<g id="n_input"><ellipse cx="136" cy="1475.5" rx="19" ry="7.5" fill="#90ee90" stroke="#6a6" stroke-width="0.35"/>
<text class="t b" x="136" y="1473.2">input_1</text><text class="t" x="136" y="1475.7">(1, 3, 224, 224) f32</text><text class="t" x="136" y="1478.2">x (1 tensor)</text></g>
</g>
</svg>
